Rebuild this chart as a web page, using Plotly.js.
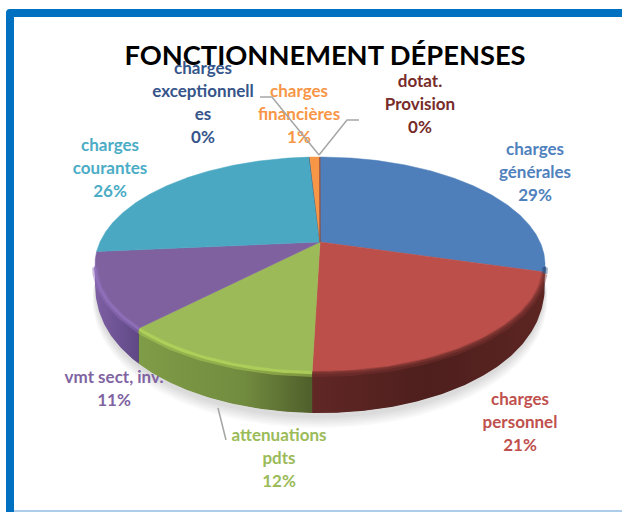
<!DOCTYPE html>
<html><head><meta charset="utf-8">
<script src="https://cdn.plot.ly/plotly-3.0.1.min.js"></script>
<style>html,body{margin:0;padding:0;background:#fff}#c{width:622px;height:512px}</style>
</head><body><div id="c"></div>
<script>
// ---- data ----
const categories = ["charges générales","charges personnel","attenuations pdts","vmt sect, inv.","charges courantes","charges exceptionnelles","charges financières","dotat. Provision"];
const values = [29.45, 21.0, 11.9, 11.2, 25.52, 0.03, 0.88, 0.02];
const labelLines = [["charges","générales"],["charges","personnel"],["attenuations","pdts"],["vmt sect, inv."],["charges","courantes"],["charges","exceptionnell","es"],["charges","financières"],["dotat.","Provision"]];
const titleText = "FONCTIONNEMENT DÉPENSES";
// ---- style / placement ----
const topColors = ["#4e7fba","#bd4f4b","#9cba58","#7f61a0","#4aa8c3","#2c4d75","#f79646","#772c2a"];
const textColors = ["#4f81bd","#c0504d","#9bbb59","#8064a2","#4bacc6","#36558a","#f79646","#772c2a"];
const rimColors = ["#2b4f7d","#7d3431","#b4d65c","#9272bd","#5cc4dc","#2c4d75","#f79646","#772c2a"];
const wallScales = [
  [[0,"#2a5485"],[1,"#1d3554"]],
  [[0,"#602725"],[0.5,"#4e1f1d"],[1,"#5c2522"]],
  [[0,"#7f9c47"],[0.6,"#728c3f"],[1,"#505f2b"]],
  [[0,"#7d5fa3"],[1,"#5f4885"]],
  [[0,"#3b8aa0"],[1,"#3b8aa0"]],
  [[0,"#2c4d75"],[1,"#2c4d75"]],[[0,"#c0742f"],[1,"#c0742f"]],[[0,"#772c2a"],[1,"#772c2a"]]
];
const labelX = [535,520,279,114,110,203,299,420];
const labelY = [151,401,437,379,147,70,93,83];
const lineGap = 22.8;
const fontFam = "Lato, Carlito, sans-serif";
// pie geometry in the pixel-like axes
const cx=320, apexY=242, backUp=85, frontDown=130, halfW=225;
const k=(frontDown-backUp)/(frontDown+backUp), b=2*backUp*frontDown/(frontDown+backUp), a=halfW*Math.sqrt(1-k*k);
const ellCy=apexY+(frontDown-backUp)/2, ellRy=(frontDown+backUp)/2, botCy=282, botRy=131;
const botOf=s=>botCy+botRy*Math.pow(Math.max(0,s),0.9);

function pt(t){const u=Math.sin(t),v=Math.cos(t),d=1+k*v;return [cx+a*u/d, apexY-b*v/d];}
const total=values.reduce((p,c)=>p+c,0);
function arc(t0,t1){const n=Math.max(2,Math.ceil(Math.abs(t1-t0)/0.01));const o=[];for(let i=0;i<=n;i++)o.push(pt(t0+(t1-t0)*i/n));return o;}
const base={type:"scatter",hoverinfo:"skip",showlegend:false};
const traces=[];
// soft shadow, tucked behind the pie at both ends
for(const e of [12,10,8,6,4,2]){
  const xs=[],ys=[];
  for(let i=0;i<=120;i++){const f=Math.PI*i/120,s=Math.sin(f);xs.push(cx+(halfW+e*Math.sqrt(s))*Math.cos(f));ys.push(botOf(s)+(e+3)*s);}
  traces.push({...base,x:xs,y:ys,mode:"lines",fill:"toself",fillcolor:"rgba(0,0,0,0.022)",line:{width:0}});
}
// labels
values.forEach((v,i)=>{
  const lines=[...labelLines[i],Math.round(v/total*100)+"%"];
  traces.push({...base,mode:"text",x:lines.map(()=>labelX[i]),y:lines.map((_,j)=>labelY[i]+j*lineGap),text:lines,textposition:"middle center",
    textfont:{family:fontFam,size:17,color:textColors[i],weight:700}});
});
// dark underlay so that neighbouring walls leave no light seam
{
  const xs=[],ys=[],bx=[],by=[];
  for(let i=0;i<=200;i++){const f=Math.PI*i/200,s=Math.sin(f);xs.push(cx+(halfW-1)*Math.cos(f));ys.push(ellCy+ellRy*s);bx.push(xs[i]);by.push(botOf(s)-0.5);}
  traces.push({...base,mode:"lines",x:[...xs,...bx.reverse()],y:[...ys,...by.reverse()],fill:"toself",fillcolor:"#5a4a30",line:{width:0}});
}
// slices
let cum=0; const walls=[],tops=[],rims=[];
values.forEach((v,i)=>{
  const t0=cum/total*2*Math.PI; cum+=v; const t1=cum/total*2*Math.PI;
  const top=arc(t0,t1);
  tops.push({...base,mode:"lines",x:[cx,...top.map(p=>p[0]),cx],y:[apexY,...top.map(p=>p[1]),apexY],fill:"toself",fillcolor:topColors[i],line:{width:0.5,color:topColors[i]}});
  const front=top.filter(p=>p[1]>=ellCy);
  if(front.length>1){
    const bot=front.map(p=>[p[0],botOf((p[1]-ellCy)/ellRy)]).reverse();
    const poly=[...front,...bot,front[0]];
    walls.push({...base,mode:"lines",x:poly.map(p=>p[0]),y:poly.map(p=>p[1]),fill:"toself",
      fillgradient:{type:"horizontal",colorscale:wallScales[i]},line:{width:0}});
    rims.push({...base,mode:"lines",x:front.map(p=>p[0]),y:front.map(p=>p[1]+2),opacity:0.45,line:{width:6,color:rimColors[i]}});
    rims.push({...base,mode:"lines",x:front.map(p=>p[0]),y:front.map(p=>p[1]+1),opacity:0.8,line:{width:2.5,color:rimColors[i]}});
  }
});
traces.push(...walls,...tops,...rims);
const grey="#a6a6a6";
const layout={
  width:622,height:512,margin:{l:0,r:0,t:0,b:0},paper_bgcolor:"#fff",plot_bgcolor:"#fff",showlegend:false,
  xaxis:{range:[0,622],visible:false,fixedrange:true},
  yaxis:{range:[512,0],visible:false,fixedrange:true},
  title:{text:titleText,x:325/622,xanchor:"center",y:1-55/512,yanchor:"middle",font:{family:fontFam,size:27.3,color:"#000",weight:700}},
  shapes:[
    {type:"path",layer:"below",xref:"x",yref:"y",path:"M6,512 L6,13 Q6,9 10,9 L622,9 L622,17 L14,17 L14,512 Z",fillcolor:"#0070c0",line:{width:0}},
    {type:"line",layer:"below",xref:"x",yref:"y",x0:14,x1:622,y0:511,y1:511,line:{color:"#5b9bd5",width:1}},
    {type:"path",xref:"x",yref:"y",path:"M260,97 L272,97 L319,155",line:{color:grey,width:1.5}},
    {type:"path",xref:"x",yref:"y",path:"M359,120 L347,120 L319,155",line:{color:grey,width:1.5}},
    {type:"line",xref:"x",yref:"y",x0:218,y0:408,x1:226,y1:440,line:{color:grey,width:1.5}}
  ]
};
Plotly.newPlot("c",traces,layout,{displayModeBar:false,staticPlot:true});
</script></body></html>
